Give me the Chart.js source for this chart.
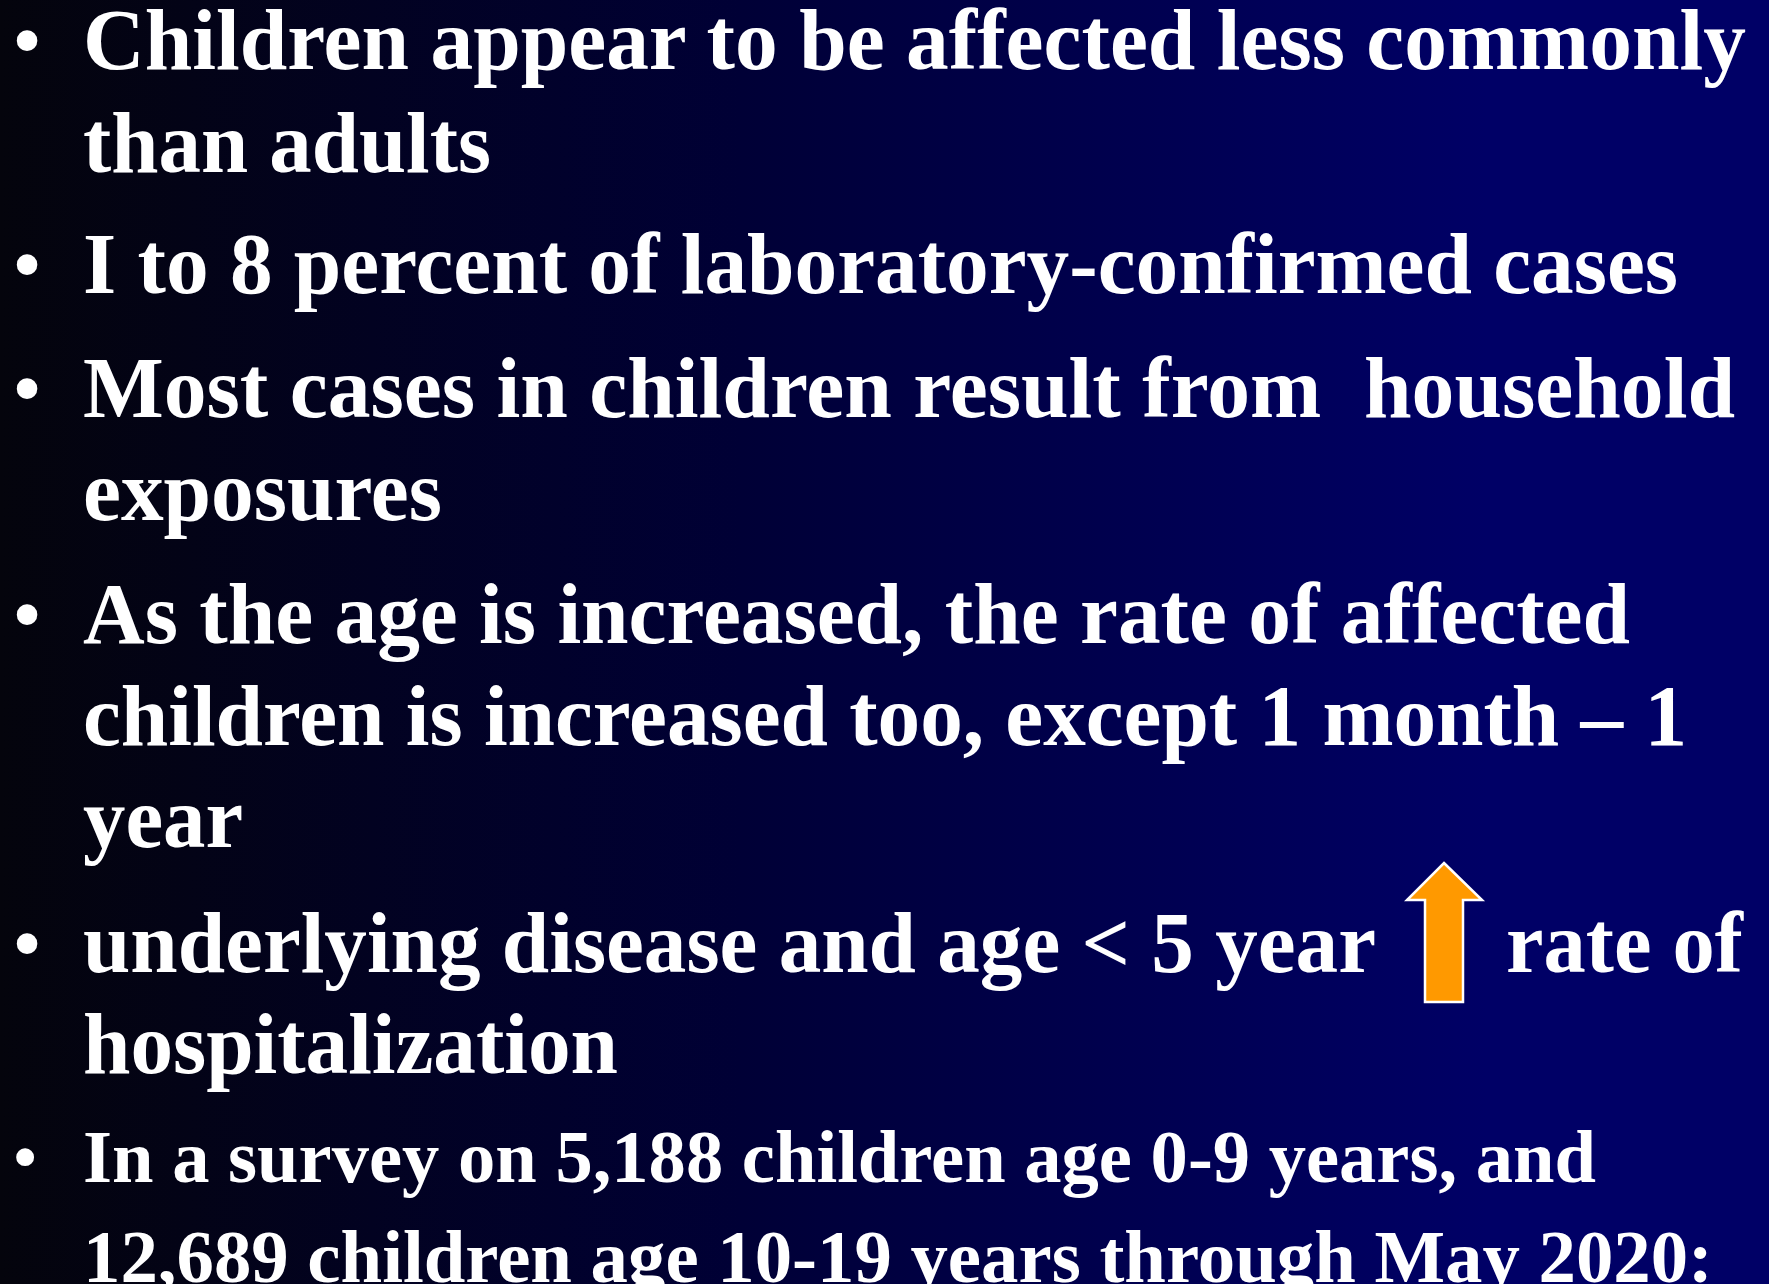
<!DOCTYPE html>
<html>
<head>
<meta charset="utf-8">
<script src="https://cdn.jsdelivr.net/npm/chart.js@4"></script>
<style>
  html, body { margin:0; padding:0; width:1769px; height:1284px; overflow:hidden; background:#000033; }
  #bg { position:absolute; left:0; top:0; width:1769px; height:1284px; }
  .line { position:absolute; white-space:pre; color:#fff; font-family:"Liberation Serif","Times New Roman",serif; font-weight:bold; line-height:1; transform-origin:0 0; }
  .bullet { position:absolute; color:#fff; font-family:"Liberation Serif","Times New Roman",serif; line-height:1; }
  #arrow { position:absolute; left:0; top:0; }
</style>
</head>
<body>
<canvas id="bg" width="1769" height="1284"></canvas>
<div id="slide"></div>
<script>
// ---- Slide content (text lines) ----
const lineTexts = [
  "Children appear to be affected less commonly",
  "than adults",
  "I to 8 percent of laboratory-confirmed cases",
  "Most cases in children result from  household",
  "exposures",
  "As the age is increased, the rate of affected",
  "children is increased too, except 1 month \u2013 1",
  "year",
  "underlying disease and age < 5 year",
  "hospitalization",
  "In a survey on 5,188 children age 0-9 years, and",
  "12,689 children age 10-19 years through May 2020:"
];
const lineHasBullet = [true,false,true,true,false,true,false,false,true,false,true,false];
const trailingText = "rate of";   // after the orange arrow on line 9

// ---- Layout ----
const lineBaselines = [69,172,293,417,520,643,745,847,972,1073,1182,1282];
const lineSizes     = [86,86,86,86,86,86,86,86,86,86,75,75];
const lineRights    = [1746,491,1678,1735,442,1630,1687,243,1376,618,1596,1713];
const textLeft = 83;

// Background drawn by Chart.js (empty chart + plugin)
const bgPlugin = {
  id:'slideBg',
  beforeDraw(chart){
    const c = chart.ctx, w = chart.width, h = chart.height;
    const g = c.createLinearGradient(0,0,w,0);
    g.addColorStop(0,'#04040c');
    g.addColorStop(0.42,'#000036');
    g.addColorStop(0.84,'#000066');
    g.addColorStop(1,'#000066');
    c.save(); c.fillStyle = g; c.fillRect(0,0,w,h); c.restore();
  }
};
new Chart(document.getElementById('bg'), {
  type:'scatter',
  data:{ datasets:[] },
  options:{
    responsive:false, animation:false,
    plugins:{ legend:{display:false}, tooltip:{enabled:false} },
    scales:{ x:{display:false}, y:{display:false} }
  },
  plugins:[bgPlugin]
});

const slide = document.getElementById('slide');
function addText(txt, left, baseline, size, right){
  const d = document.createElement('div');
  d.className = 'line';
  d.textContent = txt;
  d.style.fontSize = size + 'px';
  d.style.left = left + 'px';
  d.style.top = (baseline - 0.8375*size) + 'px';
  slide.appendChild(d);
  if (right){
    const w = d.getBoundingClientRect().width;
    const s = (right - left) / w;
    if (s > 0.85 && s < 1.15) d.style.transform = 'scaleX(' + s + ')';
  }
  return d;
}
lineTexts.forEach((t,i)=>{
  addText(t, textLeft, lineBaselines[i], lineSizes[i], lineRights[i]);
  if (lineHasBullet[i]){
    const b = document.createElement('div');
    b.className = 'bullet';
    b.textContent = '\u2022';
    b.style.fontSize = lineSizes[i] + 'px';
    b.style.left = '12px';
    b.style.top = (lineBaselines[i] - 0.8375*lineSizes[i]) + 'px';
    slide.appendChild(b);
  }
});
addText(trailingText, 1506, lineBaselines[8], lineSizes[8], 1743);

// Orange up arrow
const svgNS = 'http://www.w3.org/2000/svg';
const svg = document.createElementNS(svgNS,'svg');
svg.setAttribute('id','arrow');
svg.setAttribute('width','1769'); svg.setAttribute('height','1284');
const p = document.createElementNS(svgNS,'polygon');
p.setAttribute('points','1444,863 1482,900 1463,900 1463,1002 1425,1002 1425,900 1407,900');
p.setAttribute('fill','#FF9900');
p.setAttribute('stroke','#ffffff');
p.setAttribute('stroke-width','2.5');
svg.appendChild(p);
slide.appendChild(svg);
</script>
</body>
</html>
